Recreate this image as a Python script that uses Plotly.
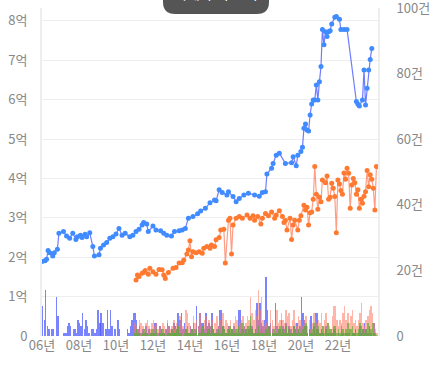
import plotly.graph_objects as go
import pandas as pd

# ---- price lines (억) ----
sale_dates = ["2006-01","2006-03","2006-04","2006-05","2006-06","2006-08","2006-09","2006-11","2006-12",
"2007-03","2007-05","2007-07","2007-09","2007-11","2007-12","2008-02","2008-03","2008-05","2008-06","2008-08",
"2008-10","2008-11","2009-02","2009-03","2009-05","2009-07","2009-09","2009-11","2010-01","2010-03","2010-05",
"2010-07","2010-10","2010-12","2011-02","2011-04","2011-06","2011-07","2011-09","2011-10","2012-01","2012-03",
"2012-06","2012-08","2012-10","2013-01","2013-03","2013-06","2013-08","2013-10","2013-12","2014-03","2014-06",
"2014-08","2014-11","2015-02","2015-05","2015-06","2015-08","2015-10","2016-01","2016-02","2016-05","2016-07",
"2016-09","2016-12","2017-03","2017-07","2017-10","2017-12","2018-02","2018-03","2018-06","2018-07","2018-09",
"2018-11","2019-03","2019-07","2019-08","2019-10","2019-11","2020-01","2020-02","2020-03","2020-04","2020-05",
"2020-06","2020-07","2020-08","2020-09","2020-10","2020-11","2020-12","2021-01","2021-02","2021-03","2021-04",
"2021-05","2021-06","2021-07","2021-08","2021-09","2021-11","2021-12","2022-02","2022-03","2022-05","2022-07",
"2023-01","2023-02","2023-03","2023-05","2023-06","2023-07","2023-08","2023-09","2023-10","2023-11"]
sale_price = [1.89,1.91,1.95,2.17,2.11,2.03,2.11,2.20,2.61,
2.65,2.54,2.48,2.61,2.45,2.52,2.56,2.50,2.58,2.52,2.62,
2.27,2.03,2.06,2.23,2.31,2.37,2.48,2.52,2.59,2.73,2.56,
2.61,2.52,2.56,2.65,2.71,2.82,2.88,2.84,2.65,2.79,2.69,
2.67,2.61,2.56,2.54,2.65,2.67,2.69,2.73,2.99,3.03,3.10,
3.17,3.24,3.38,3.45,3.43,3.71,3.64,3.58,3.66,3.54,3.41,
3.49,3.58,3.62,3.58,3.55,3.64,3.66,4.11,4.26,4.38,4.59,
4.64,4.38,4.40,4.55,4.32,4.59,4.68,4.79,5.27,5.38,5.23,
5.20,5.61,5.89,5.99,5.99,6.37,5.99,6.45,6.84,7.78,7.39,
7.72,7.60,7.72,7.75,7.92,8.09,8.11,8.04,7.78,7.78,7.78,
5.95,5.88,5.84,5.99,6.75,5.86,6.29,6.75,7.02,7.30]

jeonse_dates = ["2011-02","2011-03","2011-04","2011-06","2011-07","2011-08","2011-10","2011-11","2012-01","2012-03",
"2012-05","2012-07","2012-08","2012-09","2012-11","2013-02","2013-04","2013-06","2013-08","2013-09","2013-11",
"2013-12","2014-01","2014-02","2014-03","2014-05","2014-07","2014-09","2014-10","2014-12","2015-02","2015-03",
"2015-05","2015-06","2015-08","2015-09","2015-11","2015-12","2016-02","2016-03","2016-04","2016-05","2016-07",
"2016-09","2016-11","2017-02","2017-04","2017-06","2017-07","2017-09","2017-11","2017-12","2018-02","2018-04",
"2018-06","2018-08","2018-09","2018-11","2019-01","2019-02","2019-03","2019-04","2019-06","2019-07","2019-08",
"2019-09","2019-11","2019-12","2020-01","2020-03","2020-04","2020-05","2020-06","2020-07","2020-08","2020-09",
"2020-10","2020-11","2020-12","2021-01","2021-02","2021-03","2021-05","2021-06","2021-07","2021-08","2021-09",
"2021-10","2021-11","2021-12","2022-01","2022-02","2022-03","2022-04","2022-05","2022-06","2022-07","2022-08",
"2022-09","2022-10","2022-11","2022-12","2023-01","2023-02","2023-03","2023-04","2023-05","2023-06","2023-07",
"2023-08","2023-09","2023-10","2023-11","2023-12","2024-01","2024-02"]
jeonse_price = [1.42,1.55,1.51,1.59,1.61,1.66,1.57,1.72,1.63,1.57,
1.69,1.68,1.55,1.46,1.61,1.72,1.74,1.85,1.86,1.93,2.08,
2.18,2.42,2.01,2.14,2.11,2.14,2.10,2.23,2.27,2.23,2.31,
2.27,2.44,2.50,2.69,2.71,1.85,2.94,2.99,2.08,2.82,2.99,
3.03,2.99,3.07,2.99,3.05,2.94,3.03,2.84,2.99,3.11,3.05,
3.15,2.99,3.07,3.18,3.03,2.88,2.93,2.69,2.99,2.45,2.82,
2.94,2.69,2.94,3.05,3.32,3.20,3.27,2.82,3.13,3.15,3.47,
4.30,3.60,3.22,3.52,3.41,3.96,3.89,4.06,3.47,3.52,3.88,
3.75,3.54,2.62,3.96,3.86,3.69,3.60,4.14,3.98,4.26,4.13,
3.24,3.83,4.00,3.89,3.60,3.71,3.24,3.47,3.37,3.55,3.66,
4.20,3.79,4.09,3.98,3.75,3.20,4.30]

# ---- monthly transaction counts (건) ----
sale_count = [
 9,5,14,3,2,0,2,2,0,12,6,0,
 0,0,1,1,3,4,3,0,2,2,1,5,
 4,3,7,2,5,3,1,0,2,2,1,2,
 8,4,7,4,0,2,8,2,8,3,0,2,
 0,5,2,0,0,0,0,2,1,3,5,7,
 7,5,2,3,1,2,1,3,1,2,1,1,
 2,4,4,1,3,2,1,1,2,4,3,1,
 2,4,3,2,7,5,7,2,4,2,3,1,
 3,2,4,2,9,3,7,4,4,2,7,3,
 4,3,7,2,1,2,3,8,8,3,2,1,
 2,3,1,2,3,2,1,8,8,4,2,3,
 2,3,2,4,3,1,2,10,5,10,4,3,
 5,18,8,3,4,2,1,10,3,2,2,5,
 3,2,4,1,3,2,1,3,2,4,2,3,
 12,7,5,3,1,2,6,1,3,7,7,2,
 1,2,1,0,3,1,2,1,1,2,3,0,
 1,0,2,1,0,1,1,2,0,1,1,2,
 0,1,3,1,2,4,2,1,3,1,0,4,
 1,0]
jeonse_count = [
 4,3,2,5,4,3,2,4,5,3,2,4,
 5,3,4,2,3,1,4,3,2,5,3,2,
 3,5,2,4,3,6,4,3,2,8,7,4,
 3,2,6,4,5,3,7,4,2,5,6,3,
 5,3,5,2,4,6,3,5,4,7,3,5,
 4,3,5,2,4,6,5,3,4,5,6,3,
 4,6,5,12,7,5,8,6,14,8,12,5,
 3,4,1,3,8,5,3,4,8,4,5,7,
 5,4,8,6,7,3,5,8,4,3,6,5,
 4,3,5,6,3,5,2,4,7,6,4,5,
 4,7,3,5,7,4,3,2,6,9,9,5,
 3,5,4,7,9,5,7,4,6,8,4,5,
 3,5,7,10,4,3,5,6,8,9,7,4,
 2,1]
wolse_count = [
 1,2,1,1,0,1,2,1,1,0,1,2,
 1,1,2,0,1,1,2,1,0,1,1,1,
 2,1,1,2,3,1,1,0,1,2,1,1,
 1,2,1,1,2,1,1,2,3,1,1,2,
 2,1,3,2,1,1,2,1,1,3,2,1,
 1,2,3,2,1,1,2,3,1,2,4,1,
 2,1,3,6,2,1,2,1,3,1,2,1,
 1,2,1,3,1,1,2,1,1,2,3,1,
 2,1,3,1,2,1,1,3,2,1,2,1,
 1,2,3,4,1,2,1,2,4,1,2,3,
 1,2,3,1,2,4,1,2,1,3,2,1,
 2,1,3,2,1,2,4,1,2,3,1,2,
 1,2,4,3,2,1,2,4,3,2,4,1,
 0,0]

y_ticks = [0, 1, 2, 3, 4, 5, 6, 7, 8]
y_labels = ["0", "1억", "2억", "3억", "4억", "5억", "6억", "7억", "8억"]
y2_ticks = [0, 20, 40, 60, 80, 100]
y2_labels = ["0", "20건", "40건", "60건", "80건", "100건"]
x_ticks = ["2006-01-01", "2008-01-01", "2010-01-01", "2012-01-01", "2014-01-01",
           "2016-01-01", "2018-01-01", "2020-01-01", "2022-01-01"]
x_labels = ["06년", "08년", "10년", "12년", "14년", "16년", "18년", "20년", "22년"]

sale_months = pd.date_range("2006-01-01", periods=len(sale_count), freq="MS") + pd.Timedelta(days=14)
rent_months = pd.date_range("2011-01-01", periods=len(jeonse_count), freq="MS") + pd.Timedelta(days=14)
bar_w = 30 * 24 * 3600 * 1000

FONT = "Noto Sans CJK KR, Noto Sans, sans-serif"

fig = go.Figure()
fig.add_trace(go.Bar(x=sale_months, y=sale_count, yaxis="y2", width=bar_w,
                     marker=dict(color="rgba(70,85,255,0.72)", line=dict(width=0))))
fig.add_trace(go.Bar(x=rent_months, y=jeonse_count, yaxis="y2", width=bar_w,
                     marker=dict(color="rgba(255,120,95,0.55)", line=dict(width=0))))
fig.add_trace(go.Bar(x=rent_months, y=wolse_count, yaxis="y2", width=bar_w,
                     marker=dict(color="rgba(70,175,30,0.6)", line=dict(width=0))))
fig.add_trace(go.Scatter(x=pd.to_datetime(jeonse_dates), y=jeonse_price, mode="lines+markers",
                         line=dict(color="rgba(255,140,110,0.85)", width=1.2),
                         marker=dict(color="#ff7a30", size=5)))
fig.add_trace(go.Scatter(x=pd.to_datetime(sale_dates), y=sale_price, mode="lines+markers",
                         line=dict(color="rgba(95,110,255,0.9)", width=1.2),
                         marker=dict(color="#3f8bff", size=5)))

# green baseline under the rent-count bars
fig.add_trace(go.Scatter(x=[rent_months[0], rent_months[-1]], y=[0, 0], yaxis="y2", mode="lines",
                         line=dict(color="rgba(60,200,40,0.9)", width=1.5, dash="dot"),
                         hoverinfo="skip"))

# dark rounded tab at the top
x0, x1 = (163 - 42) / 336, (269 - 42) / 336
yb, yt = (336 - 14) / 328, (336 + 30) / 328
rx, ry = 12 / 336, 12 / 328
path = (f"M {x0},{yt} L {x0},{yb+ry} Q {x0},{yb} {x0+rx},{yb} "
        f"L {x1-rx},{yb} Q {x1},{yb} {x1},{yb+ry} L {x1},{yt} Z")
fig.add_shape(type="path", path=path, xref="paper", yref="paper",
              fillcolor="#555555", line=dict(width=0), layer="above")
fig.add_annotation(text="시세 추이 보기", xref="paper", yref="paper",
                   x=(x0 + x1) / 2, y=(336 - 5) / 328, yanchor="bottom", showarrow=False,
                   font=dict(color="white", size=14, family=FONT))

fig.update_layout(
    width=436, height=375,
    margin=dict(l=42, r=58, t=8, b=39, autoexpand=False),
    paper_bgcolor="white", plot_bgcolor="white",
    barmode="overlay", bargap=0, showlegend=False,
    font=dict(family=FONT, color="#888", size=13),
    xaxis=dict(type="date", range=["2006-01-01", "2024-03-03"],
               tickvals=x_ticks, ticktext=x_labels, automargin=False,
               showgrid=False, zeroline=False, showline=False,
               ticks="", tickfont=dict(size=13, color="#888")),
    yaxis=dict(range=[0, 8.325], tickvals=y_ticks, ticktext=y_labels, automargin=False,
               showgrid=True, gridcolor="#eeeeee", gridwidth=1, zeroline=False,
               showline=True, linecolor="#eeeeee", linewidth=2,
               ticks="", ticklabelstandoff=10, tickfont=dict(size=13, color="#888")),
    yaxis2=dict(range=[0, 100.05], overlaying="y", side="right", tickvals=y2_ticks, ticktext=y2_labels,
                automargin=False,
                showgrid=False, zeroline=False, showline=True, linecolor="#eeeeee", linewidth=2,
                ticks="", ticklabelstandoff=14, ticklabeloverflow="allow",
                tickfont=dict(size=13, color="#888")),
)

fig.write_html("out.html")
